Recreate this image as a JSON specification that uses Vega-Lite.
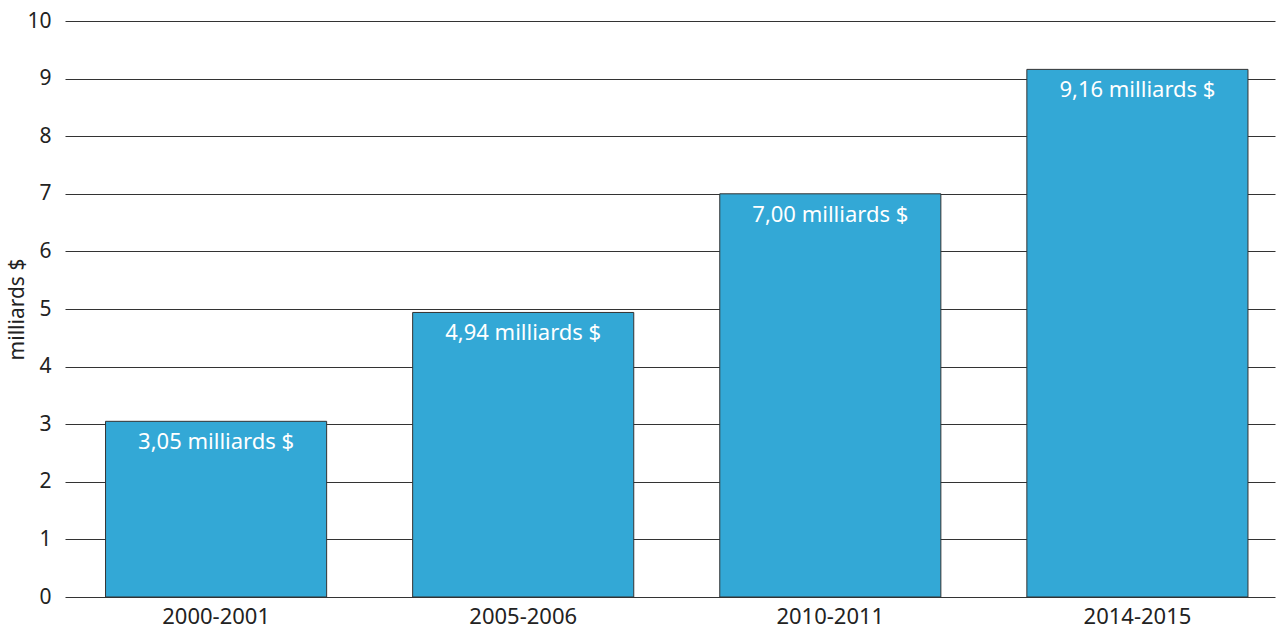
{
  "$schema": "https://vega.github.io/schema/vega-lite/v6.json",
  "width": 1210,
  "height": 576,
  "autosize": {"type": "none"},
  "padding": {"left": 65, "top": 21, "right": 3, "bottom": 31},
  "background": "white",
  "config": {
    "view": {"stroke": null},
    "font": "Noto Sans"
  },
  "data": {
    "values": [
      {"periode": "2000-2001", "valeur": 3.05, "label": "3,05 milliards $"},
      {"periode": "2005-2006", "valeur": 4.94, "label": "4,94 milliards $"},
      {"periode": "2010-2011", "valeur": 7.00, "label": "7,00 milliards $"},
      {"periode": "2014-2015", "valeur": 9.16, "label": "9,16 milliards $"}
    ]
  },
  "encoding": {
    "x": {
      "field": "periode",
      "type": "nominal",
      "sort": null,
      "scale": {"paddingInner": 0.28, "paddingOuter": 0.11, "align": 0.6},
      "axis": {
        "title": null,
        "labelAngle": 0,
        "domain": false,
        "ticks": false,
        "labelPadding": 9,
        "labelFontSize": 22,
        "labelColor": "#222"
      }
    },
    "y": {
      "field": "valeur",
      "type": "quantitative",
      "scale": {"domain": [0, 10], "nice": false},
      "axis": {
        "title": "milliards $",
        "titleFontSize": 21,
        "titleFontWeight": "normal",
        "titleColor": "#222",
        "titlePadding": -1,
        "values": [0, 1, 2, 3, 4, 5, 6, 7, 8, 9, 10],
        "domain": false,
        "ticks": false,
        "grid": true,
        "gridColor": "#333",
        "gridWidth": 1,
        "labelPadding": 14,
        "labelFontSize": 21,
        "labelColor": "#222"
      }
    }
  },
  "layer": [
    {
      "mark": {"type": "bar", "color": "#33a8d6", "stroke": "#333", "strokeWidth": 1}
    },
    {
      "mark": {"type": "text", "color": "white", "baseline": "top", "dy": 11, "fontSize": 22},
      "encoding": {"text": {"field": "label"}}
    }
  ]
}
